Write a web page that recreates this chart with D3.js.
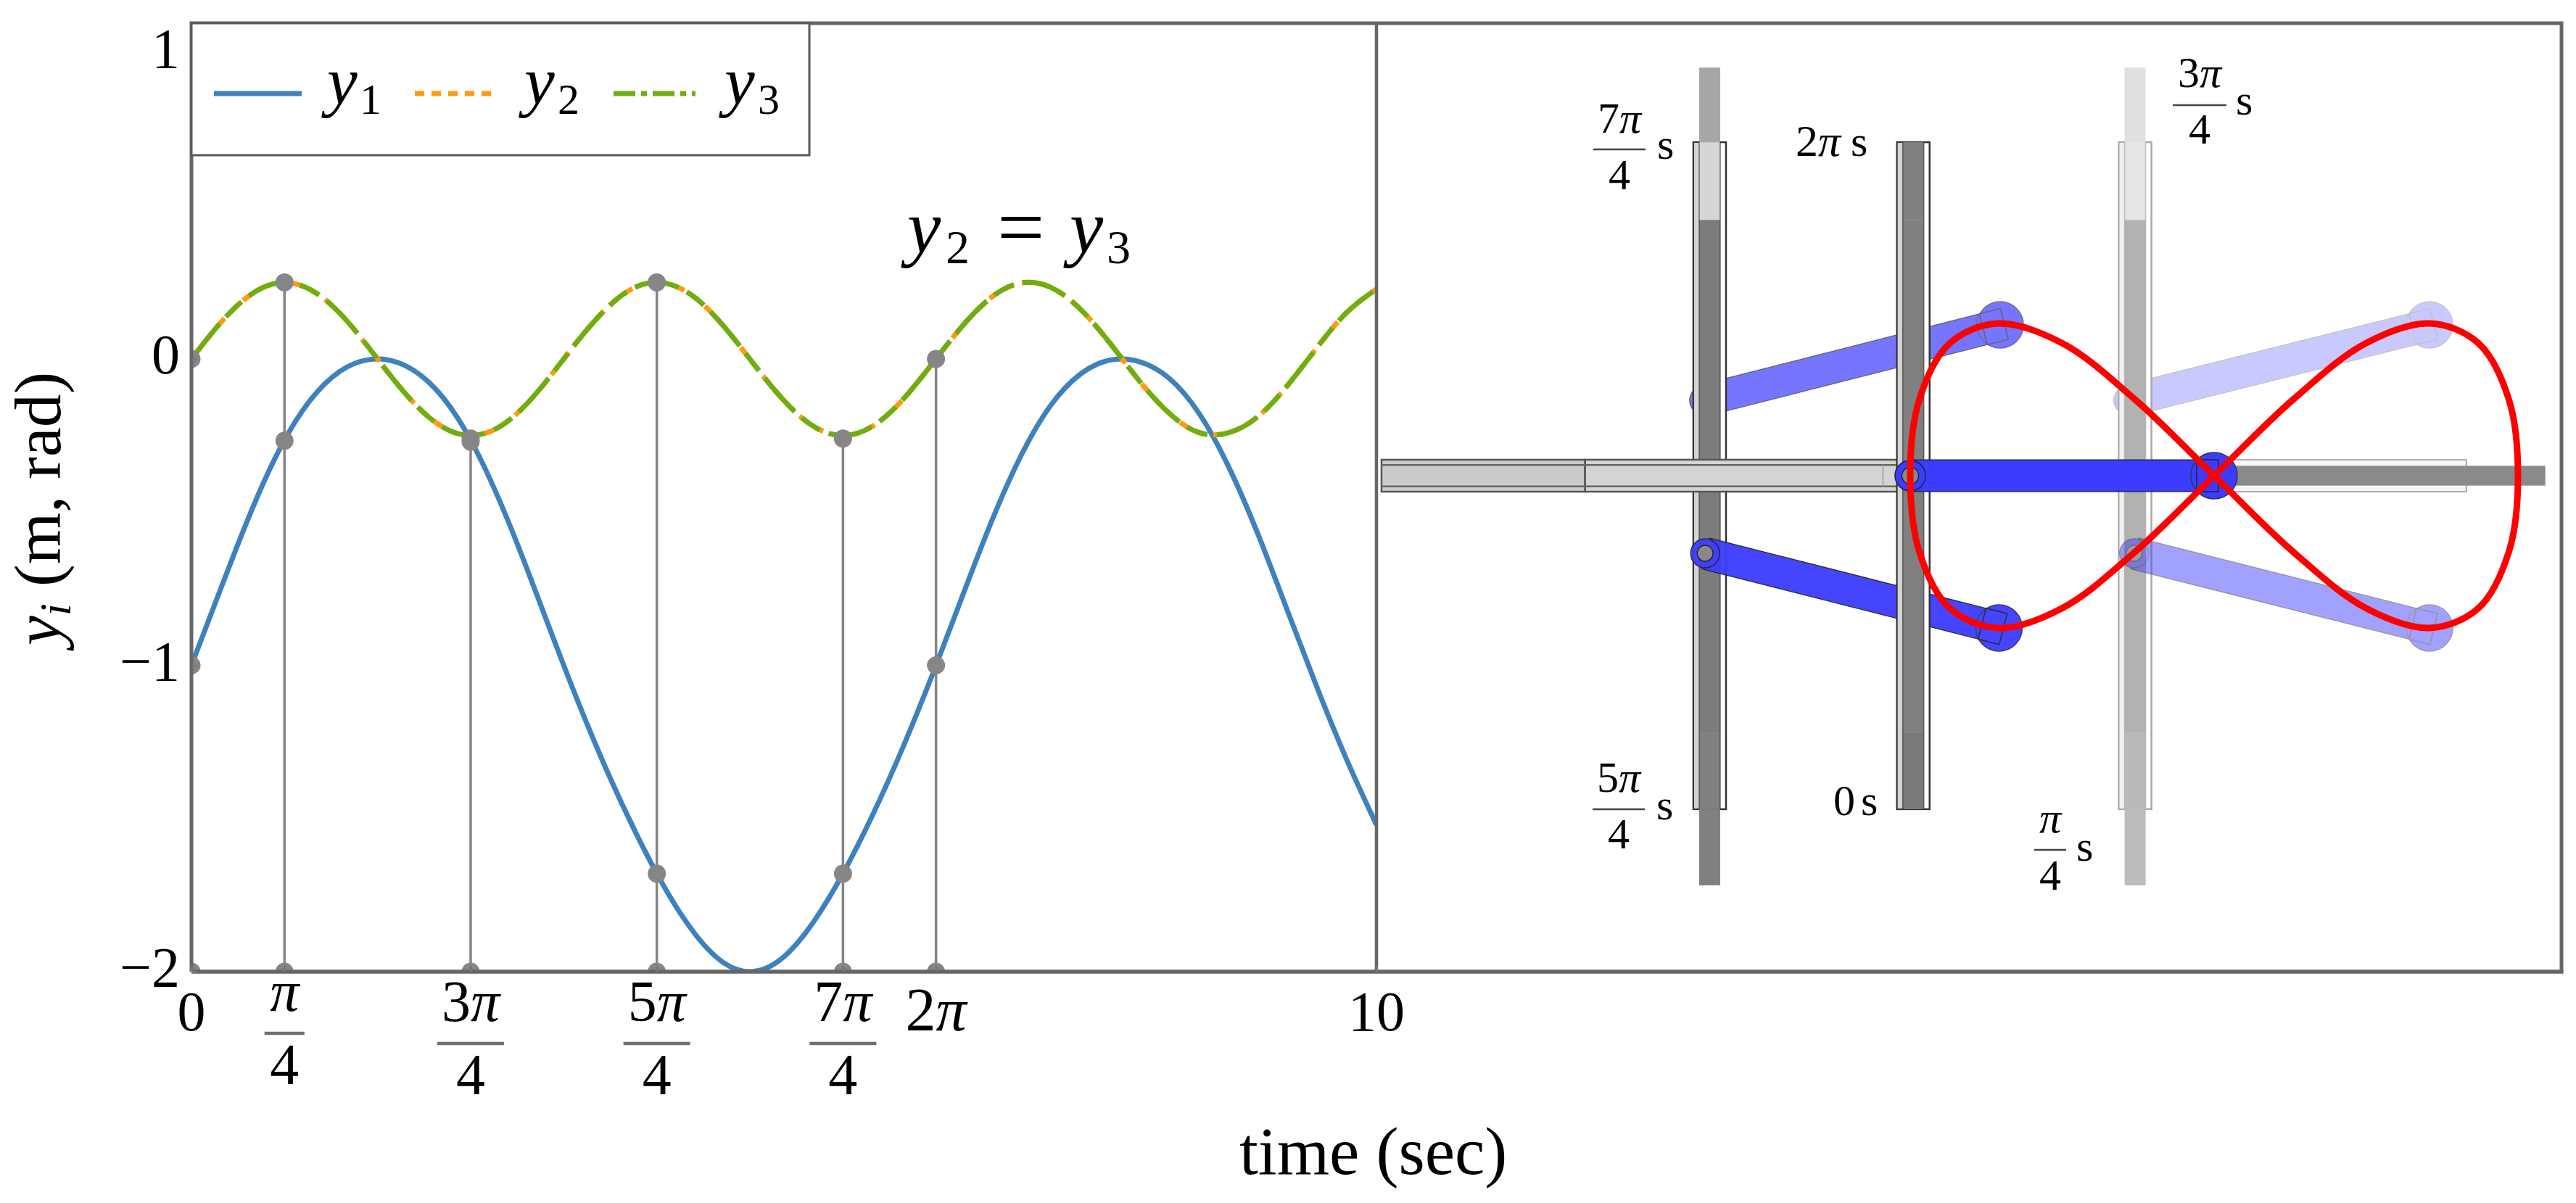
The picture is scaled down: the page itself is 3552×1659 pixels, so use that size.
<!DOCTYPE html>
<html>
<head>
<meta charset="utf-8">
<script src="https://d3js.org/d3.v7.min.js"></script>
<style>
  body { margin: 0; background: #fff; }
  text { font-family: "Liberation Serif", serif; fill: #000; }
</style>
</head>
<body>
<script>
// time series, every 0.25 s
const times = [0,.25,.5,.75,1,1.25,1.5,1.75,2,2.25,2.5,2.75,3,3.25,3.5,3.75,4,4.25,4.5,4.75,5,5.25,5.5,5.75,6,6.25,6.5,6.75,7,7.25,7.5,7.75,8,8.25,8.5,8.75,9,9.25,9.5,9.75,10];
const y1 = [-1,-.747,-.501,-.29,-.136,-.041,-.002,-.013,-.075,-.195,-.376,-.604,-.857,-1.107,-1.339,-1.547,-1.73,-1.877,-1.973,-1.999,-1.951,-1.837,-1.678,-1.487,-1.271,-1.033,-.78,-.532,-.316,-.152,-.05,-.004,-.009,-.063,-.176,-.35,-.572,-.823,-1.074,-1.309,-1.521];
const y2 = [0,.12,.21,.249,.227,.15,.035,-.088,-.189,-.244,-.24,-.177,-.07,.054,.164,.235,.247,.2,.103,-.019,-.136,-.22,-.25,-.219,-.134,-.016,.105,.201,.248,.234,.163,.052,-.072,-.177,-.24,-.241,-.188,-.086,.038,.152,.228];
const y3 = y2.slice(); // y2 = y3, the two curves sit on top of each other

// x tick positions and their labels
const tickTimes = [0,.785,2.356,3.927,5.498,6.283,10];
const tickNums = ["0","π","3π","5π","7π","2π","10"];
const tickDens = ["","4","4","4","4","",""];
const yTicks = [1,0,-1,-2];

// gray marker stems
const markTimes = [0,.785,2.356,3.927,5.498,6.283];
const markTop = [0,.25,-.26,.25,-.26,0];
const markMid = [-1,-.267,-.27,-1.68,-1.68,-1];
const markBase = [-2,-2,-2,-2,-2,-2];

// red figure eight, in mechanism units
const traceX = [0,.26,.5,.71,.87,.97,1,.97,.87,.71,.5,.26,0,-.26,-.5,-.71,-.87,-.97,-1,-.97,-.87,-.71,-.5,-.26];
const traceY = [0,.5,.87,1,.87,.5,0,-.5,-.87,-1,-.87,-.5,0,.5,.87,1,.87,.5,0,-.5,-.87,-1,-.87,-.5];

// vertical sliders, mechanism units
const sliderX = [-1.66,-.99,-.26];
const rodBreaks = [2.68,2.19,1.68,-1.69,-2.19,-2.69];
const rodShades = [
  ["#a6a6a6","#d6d6d6","#7c7c7c","#808080","#808080"],
  [null,"#808080","#808080","#7a7a7a",null],
  ["#e0e0e0","#e6e6e6","#b2b2b2","#bababa","#bcbcbc"]
];
const slotEdge = ["#333","#333","#a8a8a8"];
const slotBand = ["#d4d4d4","#d4d4d4","#f0f0f0"];

// arms: pivot to tip, mechanism units
const armFromX = [-1.678,-1.675,-.282,-.263];
const armFromY = [.495,-.51,.495,-.51];
const armToX = [-.704,-.708,.709,.709];
const armToY = [.99,-1,.99,-1];
const armAlpha = [.7,.95,.27,.48];

const W = 3552, H = 1659;
const svg = d3.select("body").append("svg").attr("width", W).attr("height", H);

const x = d3.scaleLinear().domain([0,10]).range([264,1898]);
const y = d3.scaleLinear().domain([-2,1]).range([1340,72.5]);
const mx = d3.scaleLinear().domain([-1,1]).range([2634,3472]);
const my = d3.scaleLinear().domain([-1,1]).range([866,446]);

const plotTop = 32, plotRight = 3532;

function label(parent, px, py, parts, size, anchor) {
  const t = parent.append("text").attr("x", px).attr("y", py)
    .attr("font-size", size).attr("text-anchor", anchor || "start");
  parts.forEach(p => {
    t.append("tspan").text(p[0]).attr("font-style", p[1] ? "italic" : "normal");
  });
  return t;
}
// "3π" -> 3 upright, π italic
function piParts(s) {
  return s.split("").map(c => [c, c === "π"]);
}
function fraction(cx, num, numBase, barY, denBase, barW, size, barCol, barH) {
  label(svg, cx, numBase, piParts(num), size, "middle");
  svg.append("line").attr("x1", cx - barW/2).attr("x2", cx + barW/2)
    .attr("y1", barY).attr("y2", barY).attr("stroke", barCol).attr("stroke-width", barH);
  label(svg, cx, denBase, [["4"]], size, "middle");
}

// ---- left plot ----
svg.append("defs").append("clipPath").attr("id", "plotclip").append("rect")
  .attr("x", x(0)).attr("y", plotTop).attr("width", x(10) - x(0)).attr("height", y(-2) - plotTop);

const plot = svg.append("g").attr("clip-path", "url(#plotclip)");

const line = d3.line().x((d,i) => x(times[i])).y(d => y(d)).curve(d3.curveNatural);

plot.append("path").datum(y1).attr("d", line).attr("fill", "none")
  .attr("stroke", "#3f81bd").attr("stroke-width", 7);
plot.append("path").datum(y2).attr("d", line).attr("fill", "none")
  .attr("stroke", "#ff9a0e").attr("stroke-width", 7)
  .attr("stroke-dasharray", "14 11").attr("stroke-dashoffset", -8);
plot.append("path").datum(y3).attr("d", line).attr("fill", "none")
  .attr("stroke", "#70ad0f").attr("stroke-width", 7)
  .attr("stroke-dasharray", "62 13 30 13");

plot.selectAll("line.stem").data(markTimes).join("line").attr("class", "stem")
  .attr("x1", d => x(d)).attr("x2", d => x(d))
  .attr("y1", (d,i) => y(markTop[i])).attr("y2", (d,i) => y(markBase[i]))
  .attr("stroke", "#848484").attr("stroke-width", 3.5);
[markTop, markMid, markBase].forEach(vals => {
  plot.selectAll(null).data(markTimes).join("circle")
    .attr("cx", d => x(d)).attr("cy", (d,i) => y(vals[i])).attr("r", 12.5)
    .attr("fill", "#868686");
});

// ---- right panel, mechanism ----
const mech = svg.append("g");
const slotHalf = 22.5, rodHalf = 14.5;

function drawSlider(i) {
  const g = mech.append("g");
  const cx = mx(sliderX[i]);
  g.append("rect").attr("x", cx - slotHalf).attr("y", my(rodBreaks[1]))
    .attr("width", slotHalf*2).attr("height", my(rodBreaks[4]) - my(rodBreaks[1]))
    .attr("fill", "#fff").attr("stroke", slotEdge[i]).attr("stroke-width", 2.5);
  g.append("rect").attr("x", cx - slotHalf + 1).attr("y", my(rodBreaks[1]) + 1)
    .attr("width", slotHalf - rodHalf).attr("height", my(rodBreaks[4]) - my(rodBreaks[1]) - 2)
    .attr("fill", slotBand[i]);
  g.selectAll("rect.seg").data(rodShades[i]).join("rect").attr("class", "seg")
    .attr("x", cx - rodHalf).attr("width", rodHalf*2)
    .attr("y", (d,k) => my(rodBreaks[k]))
    .attr("height", (d,k) => my(rodBreaks[k+1]) - my(rodBreaks[k]))
    .attr("fill", d => d || "none");
  // slot inner edges
  [-rodHalf, rodHalf].forEach(dx => {
    g.append("line").attr("x1", cx + dx).attr("x2", cx + dx)
      .attr("y1", my(rodBreaks[1])).attr("y2", my(rodBreaks[4]))
      .attr("stroke", slotEdge[i]).attr("stroke-width", 1.5).attr("stroke-opacity", .7);
  });
}

function drawArm(x0, y0, x1, y1, alpha, pivotR) {
  const ax = mx(x0), ay = my(y0), bx = mx(x1), by = my(y1);
  const ang = Math.atan2(by - ay, bx - ax) * 180 / Math.PI;
  const g = mech.append("g").attr("opacity", alpha);
  g.append("line").attr("x1", ax).attr("y1", ay).attr("x2", bx).attr("y2", by)
    .attr("stroke", "#222").attr("stroke-width", 45);
  g.append("line").attr("x1", ax).attr("y1", ay).attr("x2", bx).attr("y2", by)
    .attr("stroke", "#3c3cff").attr("stroke-width", 42.5);
  g.append("circle").attr("cx", bx).attr("cy", by).attr("r", 32)
    .attr("fill", "#3c3cff").attr("stroke", "#335").attr("stroke-width", 1.5);
  g.append("rect").attr("x", -24).attr("y", -22).attr("width", 30).attr("height", 44)
    .attr("transform", `translate(${bx},${by}) rotate(${ang})`)
    .attr("fill", "none").attr("stroke", "#223").attr("stroke-width", 1.5);
  g.append("circle").attr("cx", ax).attr("cy", ay).attr("r", pivotR)
    .attr("fill", "#3c3cff").attr("stroke", "#223").attr("stroke-width", 1.5);
  g.append("circle").attr("cx", ax).attr("cy", ay).attr("r", pivotR * .55)
    .attr("fill", "#8a8a8a").attr("stroke", "#223").attr("stroke-width", 1.5);
}

// the upper arms pass behind their sliders, the lower ones in front
drawArm(armFromX[0], armFromY[0], armToX[0], armToY[0], armAlpha[0], 20);
drawArm(armFromX[2], armFromY[2], armToX[2], armToY[2], armAlpha[2], 20);
drawSlider(0);
drawSlider(2);

// horizontal guide, left part
const trackTop = my(.105), trackBot = my(-.105);
mech.append("rect").attr("x", mx(-2.74)).attr("y", trackTop)
  .attr("width", mx(-2.07) - mx(-2.74)).attr("height", trackBot - trackTop)
  .attr("fill", "#cbcbcb").attr("stroke", "#555").attr("stroke-width", 2.5);
mech.append("rect").attr("x", mx(-2.07)).attr("y", trackTop)
  .attr("width", mx(-1.04) - mx(-2.07)).attr("height", trackBot - trackTop)
  .attr("fill", "#d4d4d4").attr("stroke", "#555").attr("stroke-width", 2.5);
[.07, -.07].forEach(v => {
  mech.append("line").attr("x1", mx(-2.74)).attr("x2", mx(-1.04))
    .attr("y1", my(v)).attr("y2", my(v)).attr("stroke", "#666").attr("stroke-width", 2.5);
});
mech.append("line").attr("x1", mx(-1.09)).attr("x2", mx(-1.09))
  .attr("y1", my(.07)).attr("y2", my(-.07)).attr("stroke", "#aaa").attr("stroke-width", 2);

// horizontal guide, right part with the dark rod
mech.append("rect").attr("x", mx(0)).attr("y", trackTop)
  .attr("width", mx(.83) - mx(0)).attr("height", trackBot - trackTop)
  .attr("fill", "#f6f6f6").attr("stroke", "#aaa").attr("stroke-width", 2);
mech.append("rect").attr("x", mx(0)).attr("y", my(.065))
  .attr("width", mx(1.09) - mx(0)).attr("height", my(-.065) - my(.065))
  .attr("fill", "#8a8a8a");

drawArm(armFromX[1], armFromY[1], armToX[1], armToY[1], armAlpha[1], 20);
drawArm(armFromX[3], armFromY[3], armToX[3], armToY[3], armAlpha[3], 20);
drawSlider(1);
drawArm(-1, 0, 0, 0, 1, 21);

// red trace
const traceLine = d3.line().x((d,i) => mx(traceX[i])).y(d => my(d)).curve(d3.curveCatmullRomClosed);
mech.append("path").datum(traceY).attr("d", traceLine).attr("fill", "none")
  .attr("stroke", "#ff0000").attr("stroke-width", 9);

// ---- frame and axes ----
const frame = svg.append("g").attr("fill", "none").attr("stroke", "#666");
frame.append("path").attr("d", `M${x(0)},${y(-2)}V${plotTop}H${plotRight}V${y(-2)}`).attr("stroke-width", 5);
frame.append("line").attr("x1", x(0)).attr("x2", plotRight + 2.5).attr("y1", y(-2)).attr("y2", y(-2)).attr("stroke-width", 5.5);
frame.append("line").attr("x1", x(10)).attr("x2", x(10)).attr("y1", plotTop).attr("y2", y(-2)).attr("stroke-width", 4.5);

const yAxis = d3.axisLeft(y).tickValues(yTicks).tickSizeInner(-8).tickSizeOuter(0).tickPadding(16)
  .tickFormat(d => d < 0 ? "\u2212" + Math.abs(d) : String(d));
const yg = svg.append("g").attr("transform", `translate(${x(0)},0)`).call(yAxis);
yg.select(".domain").remove();
yg.selectAll("line").attr("stroke", "#777").attr("stroke-width", 3);
yg.selectAll("text").attr("font-size", 78).attr("dy", ".25em")
  .style("font-family", '"Liberation Serif", serif');

const xAxis = d3.axisBottom(x).tickValues(tickTimes).tickSizeInner(-8).tickSizeOuter(0).tickFormat("");
const xg = svg.append("g").attr("transform", `translate(0,${y(-2)})`).call(xAxis);
xg.select(".domain").remove();
xg.selectAll("line").attr("stroke", "#777").attr("stroke-width", 3);

tickTimes.forEach((t,i) => {
  if (tickDens[i] === "") {
    label(svg, x(t), 1421, piParts(tickNums[i]), tickNums[i] === "2π" ? 84 : 78, "middle");
  } else if (tickNums[i] === "π") {
    fraction(x(t), tickNums[i], 1394, 1425, 1495, 55, 80, "#707070", 4.5);
  } else {
    fraction(x(t), tickNums[i], 1408, 1439, 1509, 92, 80, "#707070", 4.5);
  }
});

label(svg, 1709, 1619, [["time (sec)"]], 93);
const yLab = svg.append("text").attr("transform", "translate(83,890) rotate(-90)").attr("font-size", 92);
yLab.append("tspan").text("y").attr("font-style", "italic");
yLab.append("tspan").text("i").attr("font-style", "italic").attr("font-size", 62).attr("dy", 14);
yLab.append("tspan").text(" (m, rad)").attr("dy", -14);

// ---- legend ----
const legend = svg.append("g");
legend.append("rect").attr("x", x(0)).attr("y", plotTop).attr("width", 852).attr("height", 182)
  .attr("fill", "#fff").attr("stroke", "#5a5a5a").attr("stroke-width", 3);
const legendCols = ["#3f81bd","#ff9a0e","#70ad0f"];
const legendDash = [null,"13 10","30 8 8 8"];
const legendX = [[295,416],[572,678],[846,959]];
const legendText = [["1",451,496],["2",723,769],["3",999,1045]];
legendCols.forEach((c,i) => {
  legend.append("line").attr("x1", legendX[i][0]).attr("x2", legendX[i][1]).attr("y1", 129).attr("y2", 129)
    .attr("stroke", c).attr("stroke-width", 7).attr("stroke-dasharray", legendDash[i]);
  label(legend, legendText[i][1], 143, [["y", true]], 94);
  label(legend, legendText[i][2], 157, [[legendText[i][0]]], 60);
});

// annotation
label(svg, 1251, 348, [["y", true]], 104);
label(svg, 1304, 363, [["2"]], 66);
label(svg, 1375, 352, [["="]], 116);
label(svg, 1475, 348, [["y", true]], 104);
label(svg, 1526, 363, [["3"]], 66);

// ---- pose labels ----
const barCol = "#444";
fraction(2233, "7π", 183, 206, 261, 72, 60, barCol, 2.5);
label(svg, 2285, 219, [["s"]], 60);
label(svg, 2476, 215, piParts("2π"), 62);
label(svg, 2552, 215, [["s"]], 60);
fraction(3033, "3π", 120, 145, 198, 74, 60, barCol, 2.5);
label(svg, 3083, 158, [["s"]], 60);
fraction(2232, "5π", 1092, 1116, 1170, 72, 60, barCol, 2.5);
label(svg, 2284, 1130, [["s"]], 60);
label(svg, 2528, 1124, [["0"]], 60);
label(svg, 2566, 1124, [["s"]], 60);
fraction(2827, "π", 1148, 1172, 1227, 44, 60, barCol, 2.5);
label(svg, 2863, 1187, [["s"]], 60);
</script>
</body>
</html>
